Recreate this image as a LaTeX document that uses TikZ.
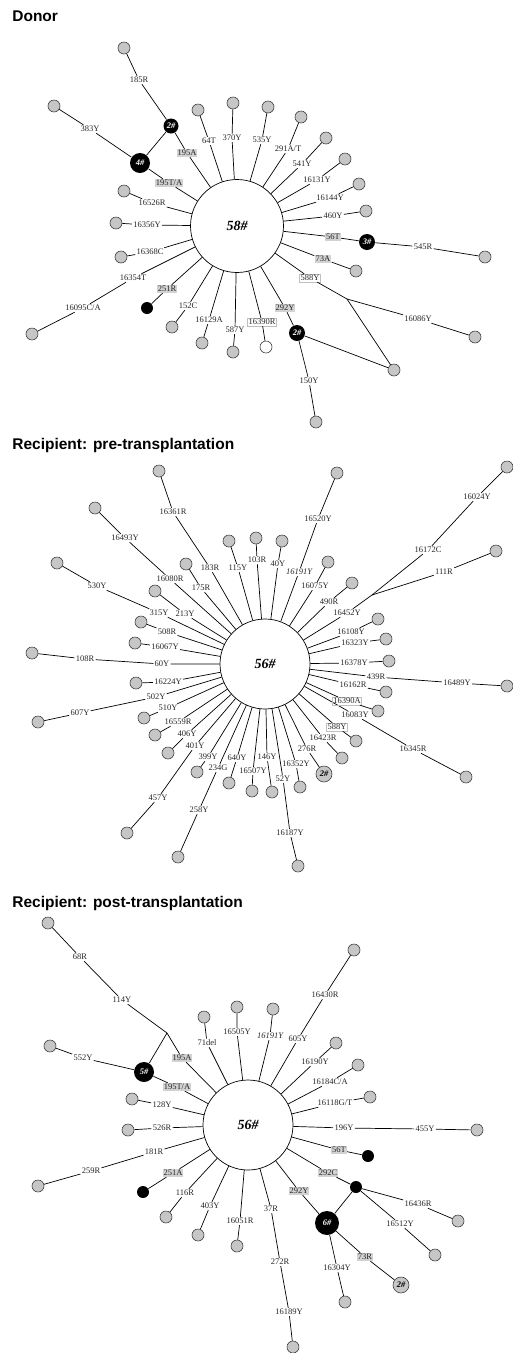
\documentclass[tikz,border=0pt]{standalone}
\usepackage{fontspec}
\setmainfont{Liberation Serif}
\newfontfamily\headfont{Liberation Sans}
\begin{document}
\begin{tikzpicture}[
        x = 1pt, y = -1pt,
        line width = .7pt,
        hap/.style = {circle, draw = black!75, fill = gray!45, minimum size = 12pt, inner sep = 0, line width = .6pt},
        blk/.style = {circle, fill = black, text = white, inner sep = 0, font = \fontsize{8.5}{10}\selectfont\bfseries\itshape},
        gnum/.style = {hap, minimum size = 16pt, font = \fontsize{8.5}{10}\selectfont\bfseries\itshape},
        hub/.style = {circle, draw, minimum size = 90pt, inner sep = 0, font = \fontsize{14}{16}\selectfont\bfseries\itshape},
        lbl/.style = {inner sep = 1pt, text = black!85, font = \fontsize{8.5}{10}\selectfont},
        glbl/.style = {lbl, fill = gray!35},
        wlbl/.style = {lbl, draw = gray!50, line width = .5pt},
        head/.style = {anchor = base west, inner sep = 0, font = \headfont\fontsize{15.5}{18}\selectfont\bfseries}
    ]
    \useasboundingbox (0,0) rectangle (513,1353);

    \node[head] (tdon) at (12,21) {Donor};
    \node[hub, minimum size = 93pt] (d0) at (237,226) {58\#};
    \foreach \ex/\ey/\lx/\ly/\t [count=\i] in {198/110/209/141/64T, 233/103/232/138/370Y, 268/107/262/140/535Y,
            301/117/288/149/{291A/T}, 326/138/302/164/541Y, 345/159/317/180/16131Y, 359/184/330/198/16144Y,
            366/211/333/216/460Y, 124/191/152/203/16526R, 116/223/147/225/16356Y, 121/257/150/252/16368C,
            172/327/188/306/152C, 202/343/209/320/16129A, 233/352/235/330/587Y} {
        \node[hap] (dn\i) at (\ex,\ey) {};
        \node[lbl] (dl\i) at (\lx,\ly) {\t};
        \draw (d0) -- (dl\i) -- (dn\i);
    }
    \node[blk, minimum size = 20pt] (d4) at (140,163) {4\#};
    \node[blk, minimum size = 15pt] (d2a) at (171,126) {2\#};
    \node[hap] (d185) at (124,48) {};
    \node[lbl] (l185) at (139,80) {185R};
    \node[hap] (d383) at (54,106) {};
    \node[lbl] (l383) at (90,129) {383Y};
    \node[glbl] (l195a) at (187,153) {195A};
    \node[glbl] (l195t) at (169,183) {195T/A};
    \draw (d0) -- (l195a) -- (d2a) -- (l185) -- (d185);
    \draw (d0) -- (l195t) -- (d4) -- (l383) -- (d383);
    \draw (d4) -- (d2a);
    \node[blk, minimum size = 16pt] (d3) at (367,242) {3\#};
    \node[glbl] (l56t) at (333,237) {56T};
    \node[lbl] (l545) at (423,247) {545R};
    \node[hap] (d545) at (485,257) {};
    \draw (d0) -- (l56t) -- (d3) -- (l545) -- (d545);
    \node[glbl] (l73a) at (323,259) {73A};
    \node[hap] (d73) at (356,271) {};
    \draw (d0) -- (l73a) -- (d73);
    \node[wlbl] (l588) at (310,278) {588Y};
    \coordinate (dj) at (347,299);
    \node[lbl] (l16086) at (418,319) {16086Y};
    \node[hap] (d16086) at (475,337) {};
    \node[hap] (dsh) at (394,370) {};
    \draw (d0) -- (l588) -- (dj) -- (l16086) -- (d16086);
    \draw (dj) -- (dsh);
    \node[glbl] (l292) at (285,308) {292Y};
    \node[blk, minimum size = 16pt] (d2b) at (297,333) {2\#};
    \node[lbl] (l150) at (309,381) {150Y};
    \node[hap] (d150) at (316,422) {};
    \draw (d0) -- (l292) -- (d2b) -- (l150) -- (d150);
    \draw (d2b) -- (dsh);
    \node[wlbl] (l16390) at (262,322) {16390R};
    \node[hap, fill = white] (d16390) at (266,347) {};
    \draw (d0) -- (l16390) -- (d16390);
    \node[glbl] (l251) at (167,289) {251R};
    \node[blk, minimum size = 12pt] (d251) at (147,308) {};
    \draw (d0) -- (l251) -- (d251);
    \node[lbl] (l16354) at (133,278) {16354T};
    \node[lbl] (l16095) at (83,308) {16095C/A};
    \node[hap] (d16095) at (32,334) {};
    \draw (d0) -- (l16354) -- (l16095) -- (d16095);

    \node[head] (tpre) at (12,449) {Recipient: pre-transplantation};
    \node[hub] (p0) at (265,664) {56\#};
    \foreach \ex/\ey/\lx/\ly/\t [count=\i] in {229/541/238/568/115Y, 256/538/257/560/103R, 282/541/278/564/40Y,
            328/562/315/586/16075Y, 352/583/329/602/490R, 378/619/351/632/16108Y, 386/639/355/643/16323Y,
            389/661/354/663/16378Y, 386/692/353/685/16162R, 342/758/323/738/16423R, 300/787/296/764/16352Y,
            272/792/267/757/146Y, 252/791/253/771/16507Y, 229/783/237/758/640Y, 197/772/208/757/399Y,
            168/753/187/734/406Y, 155/735/178/722/16559R, 144/718/168/708/510Y, 136/683/168/682/16224Y,
            135/643/165/647/16067Y, 141/622/167/632/508R, 155/591/185/614/213Y, 186/564/201/588/175R} {
        \node[hap] (pn\i) at (\ex,\ey) {};
        \node[lbl] (pl\i) at (\lx,\ly) {\t};
        \draw (p0) -- (pl\i) -- (pn\i);
    }
    \foreach \ax/\ay/\a/\bx/\by/\b/\ex/\ey [count=\i] in {210/568/183R/173/512/16361R/159/471,
            299/572/{\itshape 16191Y}/318/519/16520Y/337/473, 376/677/439R/457/683/16489Y/507/686,
            355/715/16083Y/413/749/16345R/466/777, 283/779/52Y/290/833/16187Y/298/866,
            218/768/234G/199/810/258Y/178/857, 195/746/401Y/158/798/457Y/127/833,
            156/697/502Y/80/713/607Y/38/722, 162/664/60Y/85/659/108R/32/653,
            159/613/315Y/97/586/530Y/57/563, 170/579/16080R/125/538/16493Y/95/508} {
        \node[hap] (pm\i) at (\ex,\ey) {};
        \node[lbl] (pa\i) at (\ax,\ay) {\a};
        \node[lbl] (pb\i) at (\bx,\by) {\b};
        \draw (p0) -- (pa\i) -- (pb\i) -- (pm\i);
    }
    \node[wlbl] (l16390a) at (347,701) {16390A};
    \node[hap] (p16390) at (378,711) {};
    \draw (p0) -- (l16390a) -- (p16390);
    \node[wlbl] (l588b) at (337,727) {588Y};
    \node[hap] (p588) at (356,741) {};
    \draw (p0) -- (l588b) -- (p588);
    \node[lbl] (l276) at (307,749) {276R};
    \node[gnum] (p2) at (324,774) {2\#};
    \draw (p0) -- (l276) -- (p2);
    \node[lbl] (l16452) at (347,613) {16452Y};
    \coordinate (pj) at (372,595);
    \node[lbl] (l16172) at (428,550) {16172C};
    \node[lbl] (l16024) at (477,497) {16024Y};
    \node[hap] (p16024) at (507,467) {};
    \node[lbl] (l111) at (444,572) {111R};
    \node[hap] (p111) at (496,551) {};
    \draw (p0) -- (l16452) -- (pj) -- (l16172) -- (l16024) -- (p16024);
    \draw (pj) -- (l111) -- (p111);

    \node[head] (tpost) at (12,907) {Recipient: post-transplantation};
    \node[hub] (q0) at (248,1125) {56\#};
    \foreach \ex/\ey/\lx/\ly/\t [count=\i] in {132/1099/162/1105/128Y, 204/1017/207/1043/71del,
            237/1007/237/1032/16505Y, 273/1009/270/1036/{\itshape 16191Y}, 336/1043/315/1062/16190Y,
            358/1065/330/1082/{16184C/A}, 370/1097/335/1103/{16118G/T}, 128/1130/162/1128/526R,
            166/1217/185/1193/116R, 198/1235/210/1206/403Y, 237/1246/240/1221/16051R} {
        \node[hap] (qn\i) at (\ex,\ey) {};
        \node[lbl] (ql\i) at (\lx,\ly) {\t};
        \draw (q0) -- (ql\i) -- (qn\i);
    }
    \foreach \ax/\ay/\a/\bx/\by/\b/\ex/\ey [count=\i] in {298/1039/605Y/325/995/16430R/354/950,
            344/1128/196Y/425/1129/455Y/477/1130, 154/1152/181R/91/1171/259R/38/1186} {
        \node[hap] (qm\i) at (\ex,\ey) {};
        \node[lbl] (qa\i) at (\ax,\ay) {\a};
        \node[lbl] (qb\i) at (\bx,\by) {\b};
        \draw (q0) -- (qa\i) -- (qb\i) -- (qm\i);
    }
    \node[lbl] (l37) at (271,1209) {37R};
    \node[lbl] (l272) at (280,1262) {272R};
    \node[lbl] (l16189) at (289,1312) {16189Y};
    \node[hap] (q16189) at (293,1347) {};
    \draw (q0) -- (l37) -- (l272) -- (l16189) -- (q16189);
    \node[glbl] (l195b) at (182,1058) {195A};
    \coordinate (qk) at (167,1033);
    \node[lbl] (l114) at (122,1000) {114Y};
    \node[lbl] (l68) at (80,957) {68R};
    \node[hap] (q68) at (48,923) {};
    \draw (q0) -- (l195b) -- (qk) -- (l114) -- (l68) -- (q68);
    \node[blk, minimum size = 20pt] (q5) at (144,1072) {5\#};
    \draw (qk) -- (q5);
    \node[lbl] (l552) at (83,1058) {552Y};
    \node[hap] (q552) at (50,1046) {};
    \draw (q5) -- (l552) -- (q552);
    \node[glbl] (l195u) at (177,1087) {195T/A};
    \draw (q0) -- (l195u) -- (q5);
    \node[glbl] (l56u) at (339,1150) {56T};
    \node[blk, minimum size = 12pt] (q56) at (368,1156) {};
    \draw (q0) -- (l56u) -- (q56);
    \node[glbl] (l292c) at (328,1173) {292C};
    \node[blk, minimum size = 12pt] (qj) at (356,1187) {};
    \draw (q0) -- (l292c) -- (qj);
    \node[lbl] (l16436) at (418,1204) {16436R};
    \node[hap] (q16436) at (458,1221) {};
    \draw (qj) -- (l16436) -- (q16436);
    \node[lbl] (l16512) at (400,1224) {16512Y};
    \node[hap] (q16512) at (435,1255) {};
    \draw (qj) -- (l16512) -- (q16512);
    \node[glbl] (l292u) at (299,1191) {292Y};
    \node[blk, minimum size = 24pt] (q6) at (327,1223) {6\#};
    \draw (q0) -- (l292u) -- (q6) -- (qj);
    \node[glbl] (l73r) at (365,1257) {73R};
    \node[gnum] (q2) at (401,1285) {2\#};
    \draw (q6) -- (l73r) -- (q2);
    \node[lbl] (l16304) at (337,1268) {16304Y};
    \node[hap] (q16304) at (345,1302) {};
    \draw (q6) -- (l16304) -- (q16304);
    \node[glbl] (l251a) at (173,1173) {251A};
    \node[blk, minimum size = 12pt] (q251) at (143,1192) {};
    \draw (q0) -- (l251a) -- (q251);
\end{tikzpicture}
\end{document}
